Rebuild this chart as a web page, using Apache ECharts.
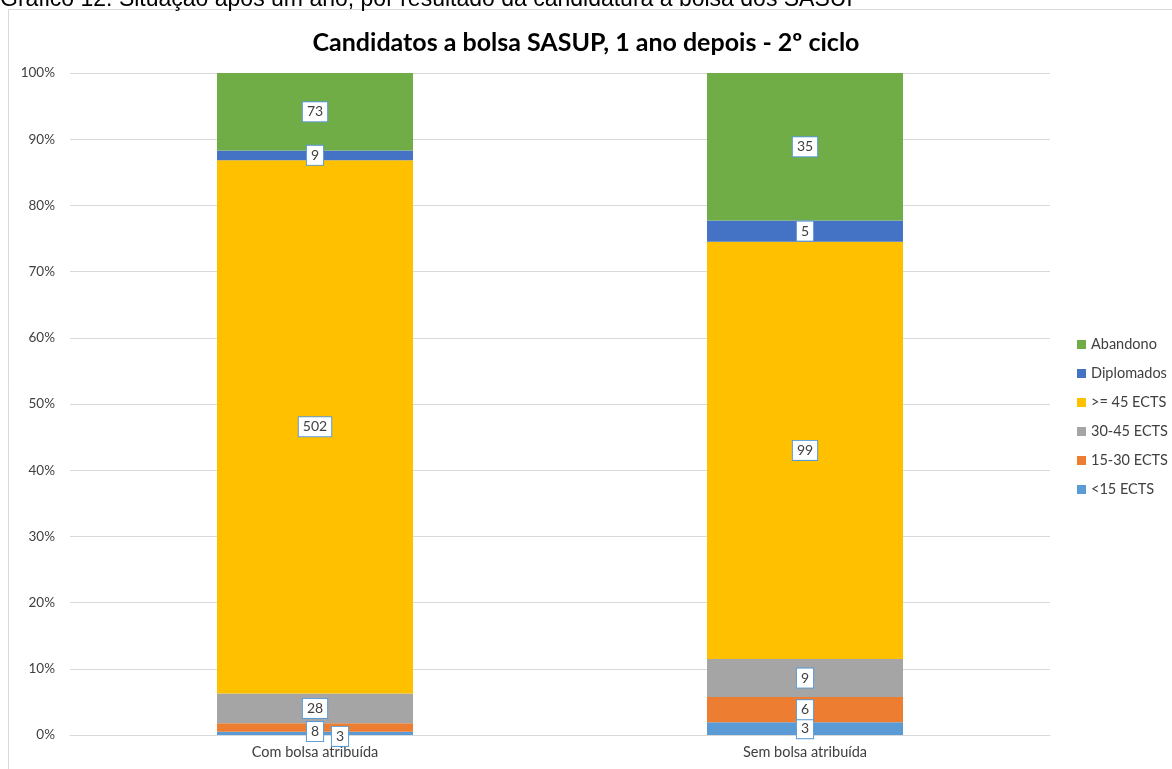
<!DOCTYPE html>
<html>
<head>
<meta charset="utf-8">
<script src="https://cdn.jsdelivr.net/npm/echarts@6/dist/echarts.min.js"></script>
<style>
  html, body { margin: 0; padding: 0; background: #fff; }
  #chart { width: 1172px; height: 769px; }
</style>
</head>
<body>
<div id="chart"></div>
<script>
// categorias e contagens
var categories = ["Com bolsa atribuída", "Sem bolsa atribuída"];
var seriesNames = ["<15 ECTS", "15-30 ECTS", "30-45 ECTS", ">= 45 ECTS", "Diplomados", "Abandono"];
var lt15 = [3, 3];
var e15to30 = [8, 6];
var e30to45 = [28, 9];
var ge45 = [502, 99];
var diplomados = [9, 5];
var abandono = [73, 35];
var colors = ["#5B9BD5", "#ED7D31", "#A5A5A5", "#FFC000", "#4472C4", "#70AD47"];

var counts = [lt15, e15to30, e30to45, ge45, diplomados, abandono];
var totals = categories.map(function (c, i) {
  return counts.reduce(function (s, arr) { return s + arr[i]; }, 0);
});

var font = "Lato, 'Open Sans', sans-serif";

// pequenos ajustes de posição das etiquetas (como o Excel faz)
var labelShift = {
  "0-0": [25, 3],
  "1-0": [0, 4]
};

var chart = echarts.init(document.getElementById("chart"));

var series = seriesNames.map(function (name, si) {
  return {
    name: name,
    type: "bar",
    stack: "total",
    barWidth: "40%",
    itemStyle: { color: colors[si] },
    data: counts[si].map(function (v, ci) {
      return { value: v / totals[ci] * 100, raw: v };
    }),
    label: {
      show: true,
      position: "inside",
      formatter: function (p) { return p.data.raw; },
      color: "#404040",
      fontFamily: font,
      fontSize: 14,
      backgroundColor: "#fff",
      borderColor: "#5B9BD5",
      borderWidth: 1,
      padding: [3, 4, 2, 4]
    },
    labelLayout: function (p) {
      var s = labelShift[p.seriesIndex + "-" + p.dataIndex];
      if (s) return { dx: s[0], dy: s[1], hideOverlap: false };
      return { hideOverlap: false };
    }
  };
});

chart.setOption({
  animation: false,
  title: {
    text: "Candidatos a bolsa SASUP, 1 ano depois - 2º ciclo",
    left: "center",
    top: 25,
    textStyle: {
      fontFamily: font,
      fontSize: 25,
      fontWeight: "bold",
      color: "#000"
    }
  },
  graphic: [
    {
      type: "rect",
      shape: { x: 8.5, y: 9.5, width: 1180, height: 780 },
      style: { fill: "none", stroke: "#D9D9D9", lineWidth: 1 },
      z: -1
    },
    {
      type: "text",
      x: 0,
      y: 11,
      style: {
        text: "Gráfico 12: Situação após um ano, por resultado da candidatura à bolsa dos SASUP",
        font: "23px 'Liberation Sans', Arial, sans-serif",
        fill: "#000",
        verticalAlign: "bottom"
      }
    }
  ],
  legend: {
    orient: "vertical",
    left: 1072,
    top: 332,
    itemWidth: 9,
    itemHeight: 9,
    itemGap: 14,
    icon: "rect",
    data: seriesNames.slice().reverse(),
    textStyle: {
      fontFamily: font,
      fontSize: 14.5,
      color: "#404040"
    }
  },
  grid: { left: 70, right: 122, top: 73, bottom: 34 },
  xAxis: {
    type: "category",
    data: categories,
    axisTick: { show: false },
    axisLine: { lineStyle: { color: "#D9D9D9" } },
    axisLabel: {
      color: "#404040",
      fontFamily: font,
      fontSize: 14.5,
      margin: 10
    }
  },
  yAxis: {
    type: "value",
    min: 0,
    max: 100,
    interval: 10,
    axisLabel: {
      formatter: "{value}%",
      color: "#404040",
      fontFamily: font,
      fontSize: 13.5,
      margin: 15
    },
    splitLine: { lineStyle: { color: "#D9D9D9" } },
    axisLine: { show: false },
    axisTick: { show: false }
  },
  series: series
});
</script>
</body>
</html>
